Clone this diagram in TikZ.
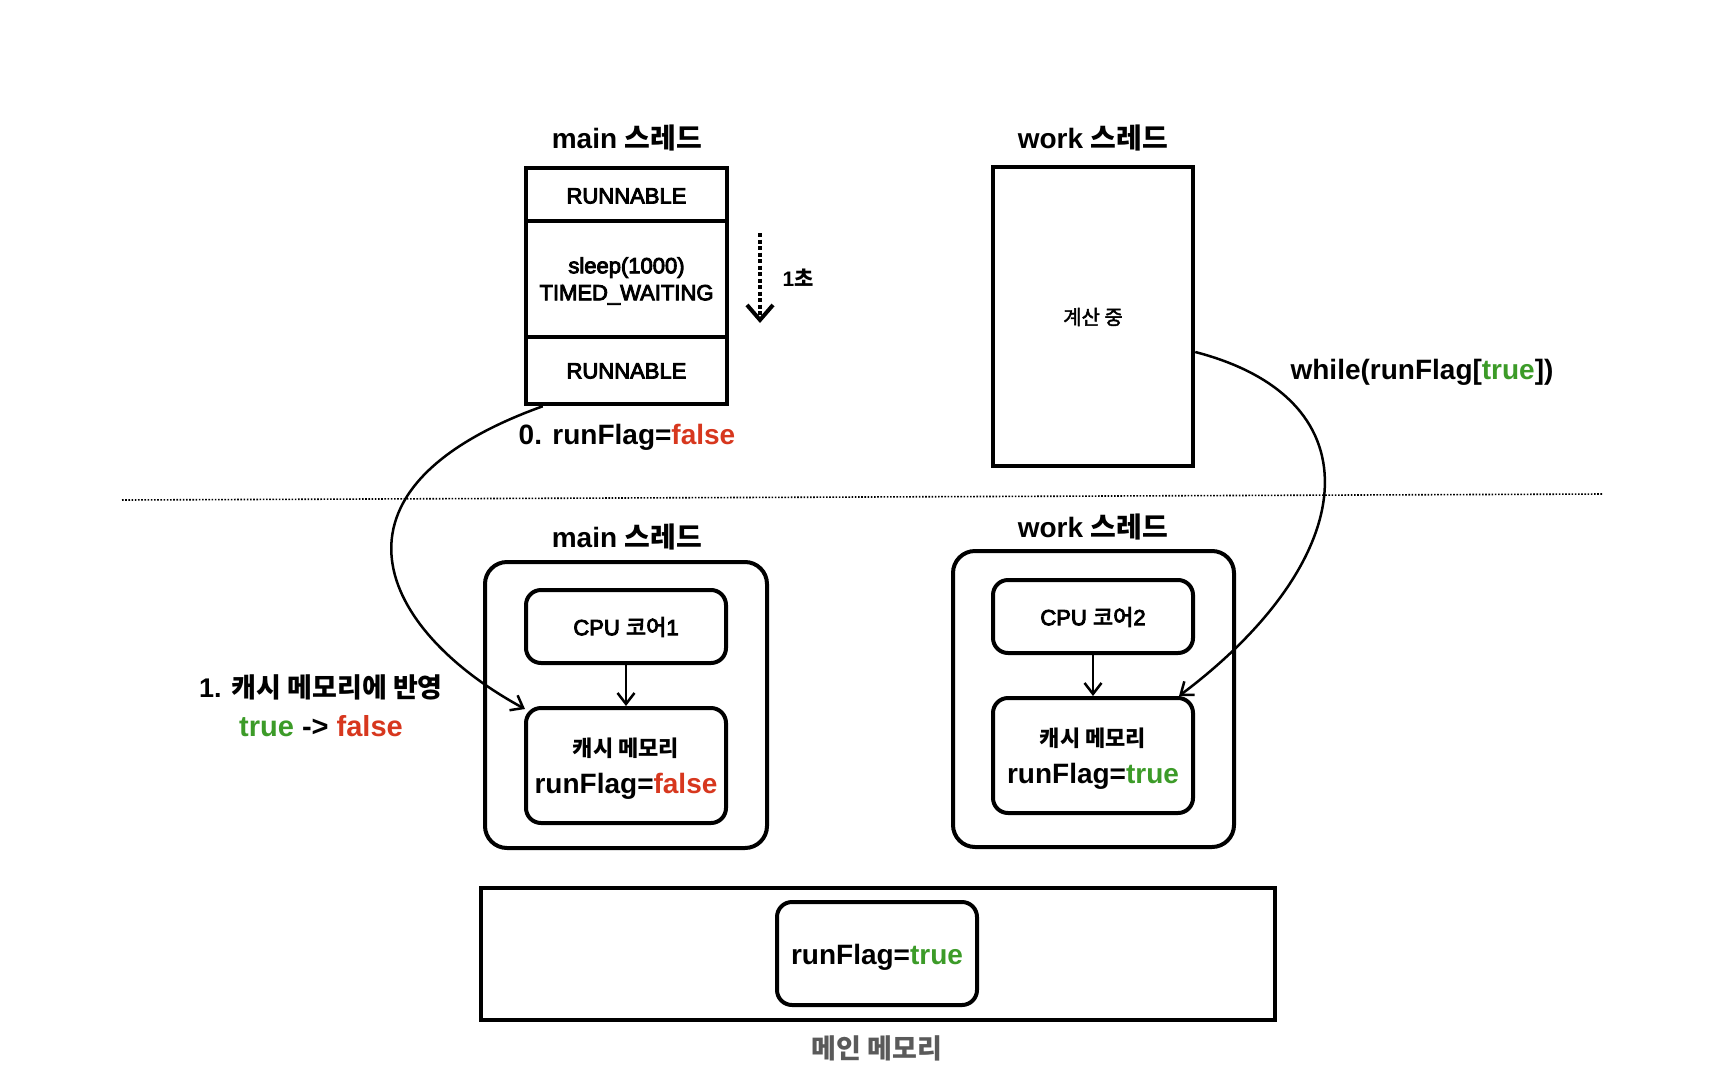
\documentclass[tikz,border=0pt]{standalone}
\usepackage{fontspec}
\setmainfont{Liberation Sans}
\newfontfamily\krfont{Noto Sans CJK KR}
\newfontfamily\medfont{Liberation Sans}[FakeBold=4]
\newfontfamily\krmed{Noto Sans CJK KR}[FakeBold=4]
\newfontfamily\krlight{Noto Sans CJK KR}[FakeBold=2]
\newcommand\hg[1]{{\krfont #1}}
\newcommand\hgm[1]{{\krmed #1}}
\newcommand\fsz[2]{\fontsize{#1}{#2}\selectfont}
\usetikzlibrary{arrows.meta}
\definecolor{tgreen}{HTML}{3C9B28}
\definecolor{tred}{HTML}{D7371E}
\definecolor{tgrey}{HTML}{5A5A5A}
\begin{document}
\begin{tikzpicture}[x=1pt,y=-1pt,
  sqbox/.style={draw, line width=4.5pt, inner sep=0pt},
  rbox/.style={draw, line width=4pt, rounded corners=15pt, inner sep=0pt},
  obox/.style={draw, line width=4pt, rounded corners=22pt, inner sep=0pt},
  ttl/.style={font=\fsz{28}{32}\bfseries, inner sep=0pt},
  lbl/.style={font=\fsz{22}{27}\medfont, inner sep=0pt, align=center},
  big/.style={font=\fsz{28}{32}\bfseries, inner sep=0pt},
  conn/.style={line width=2.5pt, -{Straight Barb[length=11pt,width=17pt,line width=2.5pt]}},
]
\useasboundingbox (0,0) rectangle (1726,1076);

% ---------- upper part ----------
\node[ttl] (tmain) at (627,138) {main \hg{스레드}};
\node[sqbox, minimum width=201pt, minimum height=53pt] (r1) at (626.5,194.5) {};
\node[sqbox, minimum width=201pt, minimum height=116pt] (r2) at (626.5,279) {};
\node[sqbox, minimum width=201pt, minimum height=67pt] (r3) at (626.5,370.5) {};
\node[lbl] (r1t) at (626.5,196) {RUNNABLE};
\node[lbl] (r2t) at (626.5,281) {sleep(1000)\\TIMED\_WAITING};
\node[lbl] (r3t) at (626.5,371) {RUNNABLE};

\coordinate (d1) at (760,233);
\coordinate (d2) at (760,323);
\draw[line width=4pt, dash pattern=on 4pt off 2.5pt,
  -{Straight Barb[length=15pt,width=26pt,line width=4pt]}] (d1) -- (d2);
\node[font=\fsz{21}{24}\bfseries, inner sep=0pt] (sec) at (798,278) {1\hg{초}};

\node[big] (l0) at (627,437) {0. runFlag=\textcolor{tred}{false}};

\node[ttl] (twork) at (1093,138) {work \hg{스레드}};
\node[sqbox, minimum width=200pt, minimum height=299pt] (wk) at (1093,316.5) {};
\node[font=\fsz{20}{24}, inner sep=0pt] (wkt) at (1093,317) {{\krlight 계산 중}};

\node[big] (lwhile) at (1422,372) {while(runFlag[\textcolor{tgreen}{true}])};

% ---------- separator ----------
\coordinate (s1) at (122,500);
\coordinate (s2) at (1603,494);
\draw[line width=1.6pt, dash pattern=on 1.6pt off 1.6pt] (s1) -- (s2);

% ---------- lower: main thread ----------
\node[ttl] (tmain2) at (627,537) {main \hg{스레드}};
\node[obox, minimum width=282pt, minimum height=286pt] (mo) at (626,705) {};
\node[rbox, minimum width=200pt, minimum height=73pt] (cpu1) at (626,626.5) {};
\node[lbl] (cpu1t) at (626,627) {CPU \hgm{코어}1};
\node[rbox, minimum width=200pt, minimum height=115pt] (cache1) at (626,765.5) {};
\node[font=\fsz{22}{26}\bfseries, inner sep=0pt] (c1a) at (626,748) {\hg{캐시 메모리}};
\node[big] (c1b) at (626,786) {runFlag=\textcolor{tred}{false}};

% ---------- lower: work thread ----------
\node[ttl] (twork2) at (1093,527) {work \hg{스레드}};
\node[obox, minimum width=281pt, minimum height=296pt] (wo) at (1093.5,699) {};
\node[rbox, minimum width=200pt, minimum height=73pt] (cpu2) at (1093,616.5) {};
\node[lbl] (cpu2t) at (1093,617) {CPU \hgm{코어}2};
\node[rbox, minimum width=200pt, minimum height=115pt] (cache2) at (1093,755.5) {};
\node[font=\fsz{22}{26}\bfseries, inner sep=0pt] (c2a) at (1093,738) {\hg{캐시 메모리}};
\node[big] (c2b) at (1093,776) {runFlag=\textcolor{tgreen}{true}};

% ---------- left label ----------
\node[font=\fsz{27}{30}\bfseries, inner sep=0pt] (l1a) at (321,687) {1. \hg{캐시 메모리에 반영}};
\node[font=\fsz{29}{32}\bfseries, inner sep=0pt] (l1b) at (321,726) {\textcolor{tgreen}{true} -> \textcolor{tred}{false}};

% ---------- main memory ----------
\node[sqbox, minimum width=794pt, minimum height=132pt] (mem) at (878,954) {};
\node[rbox, minimum width=200pt, minimum height=103pt] (memin) at (877,953.5) {};
\node[big] (memt) at (877,957) {runFlag=\textcolor{tgreen}{true}};
\node[font=\fsz{27}{30}\bfseries, text=tgrey, inner sep=0pt] (memlbl) at (877,1048) {\hg{메인 메모리}};

% ---------- connectors ----------
\draw[conn] (cpu1) -- (cache1);
\draw[conn] (cpu2) -- (cache2);
\draw[conn] ([xshift=19pt]r3.south west) .. controls (310,490) and (380,630) .. ([xshift=1pt,yshift=-3pt]cache1.north west);
\draw[conn] ([yshift=-35.5pt]wk.east) .. controls (1380,400) and (1360,560) .. ([xshift=-16pt]cache2.north east);
\end{tikzpicture}
\end{document}
